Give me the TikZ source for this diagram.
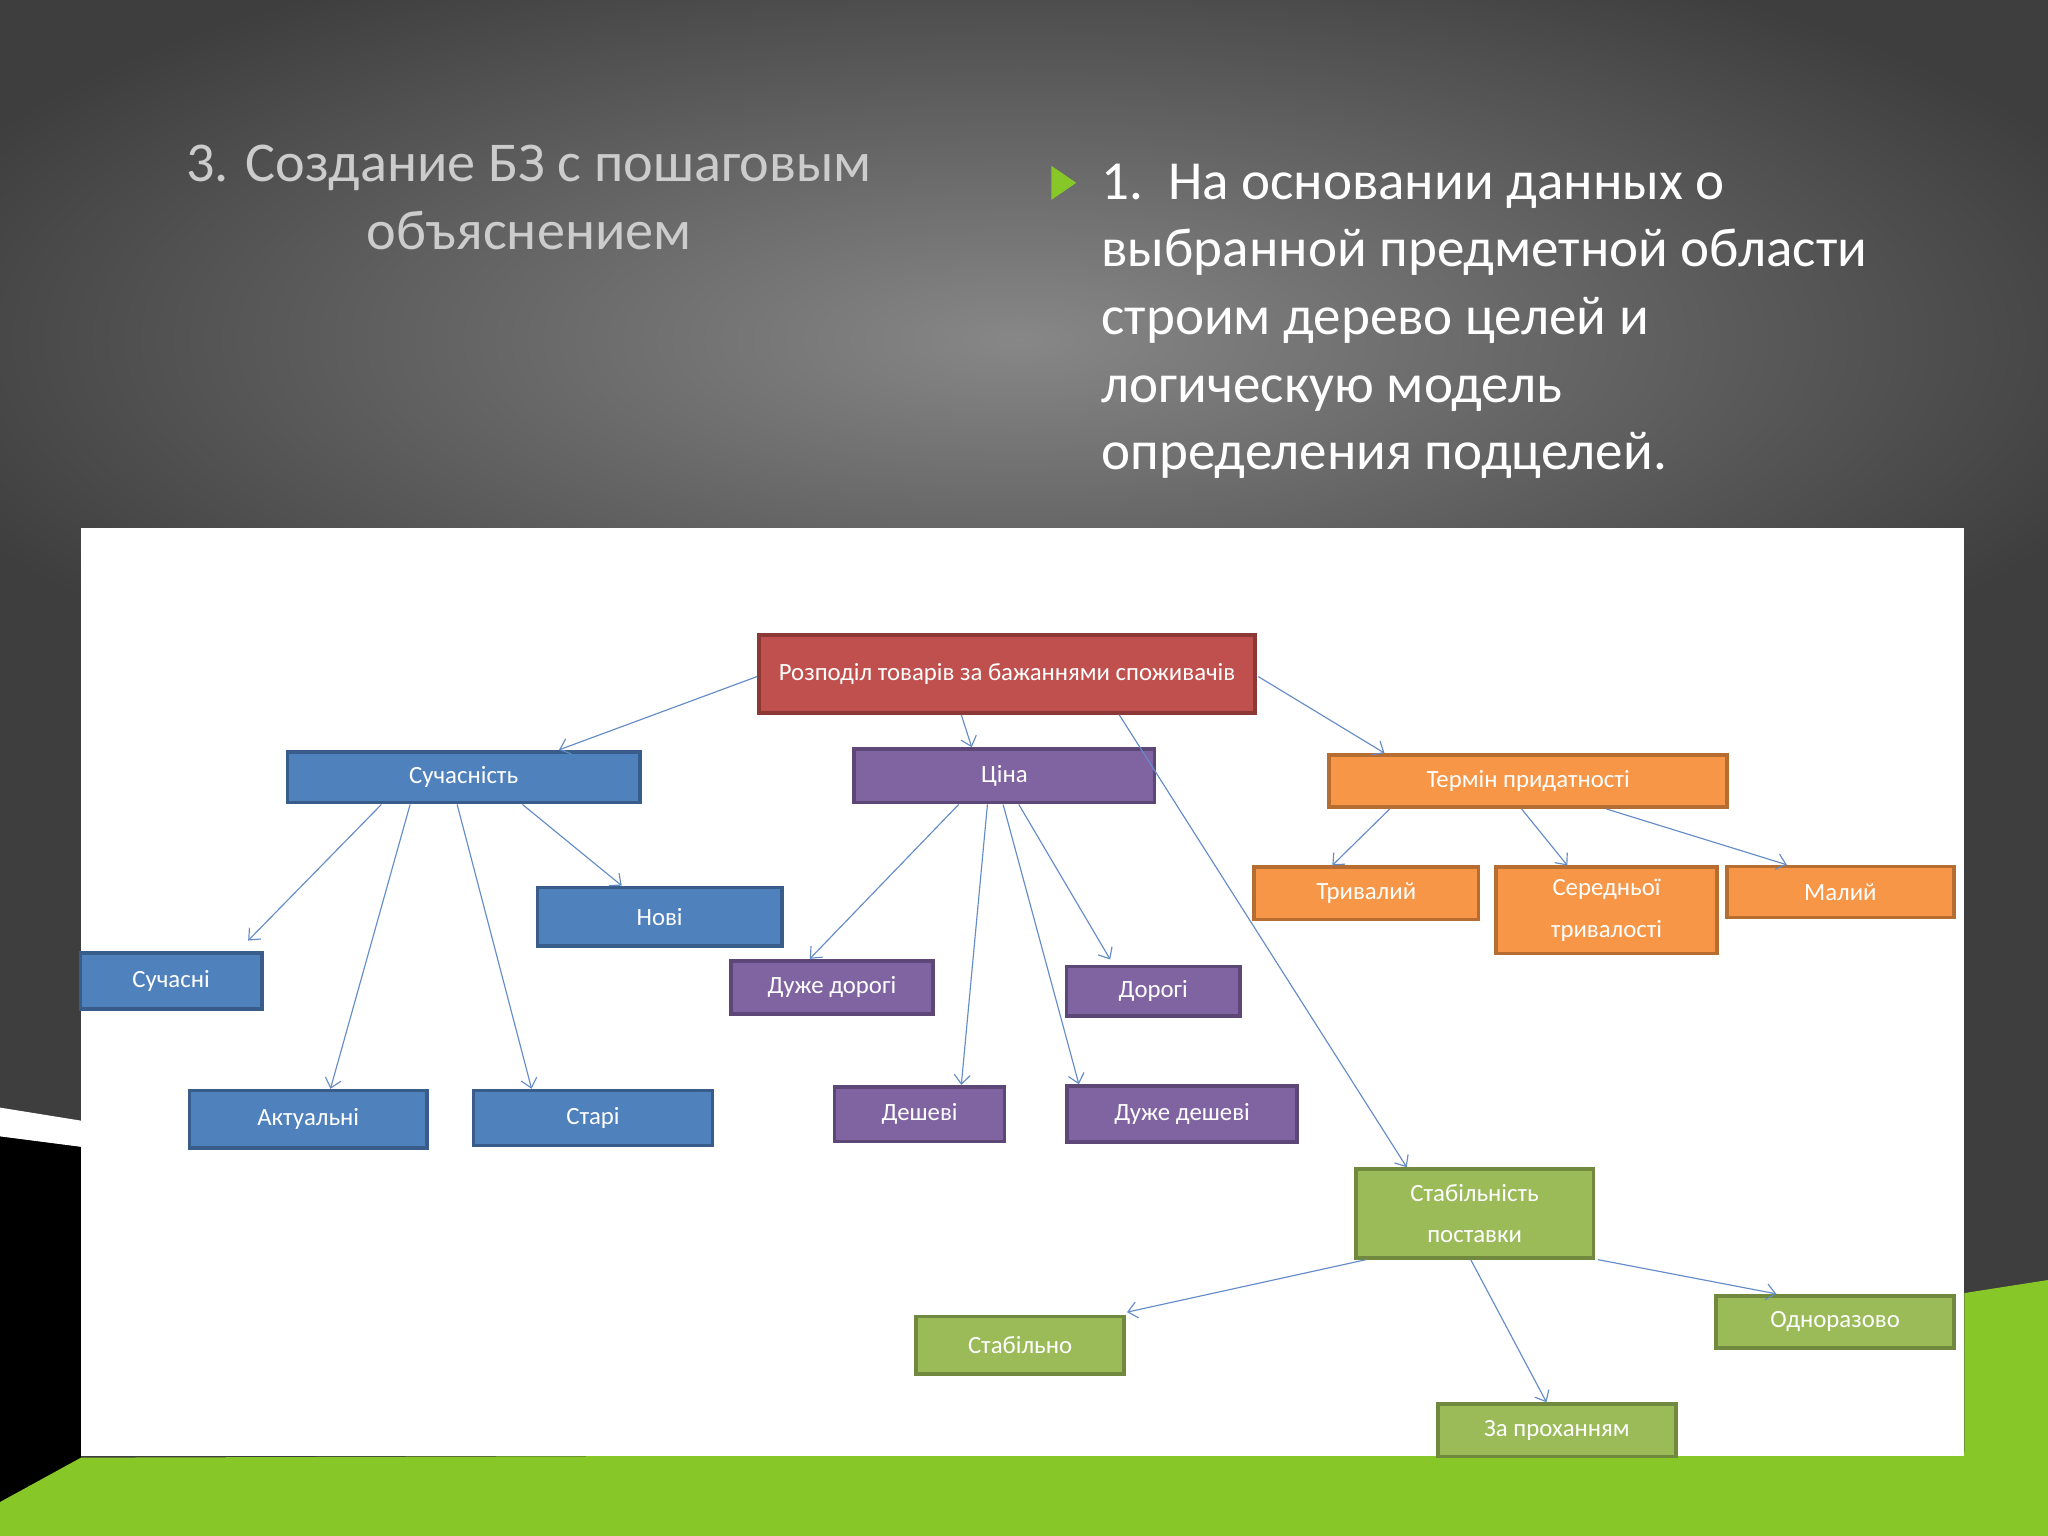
\documentclass[tikz,border=0pt]{standalone}
\usepackage{fontspec}
\setmainfont{Carlito}
\usetikzlibrary{calc,arrows.meta}
\definecolor{bgdark}{RGB}{62,62,62}
\definecolor{bglight}{RGB}{135,135,135}
\definecolor{grn}{RGB}{135,200,40}
\definecolor{rf}{RGB}{192,80,77}\definecolor{rd}{RGB}{140,56,54}
\definecolor{bf}{RGB}{79,129,189}\definecolor{bd}{RGB}{56,93,138}
\definecolor{pf}{RGB}{128,100,162}\definecolor{pd}{RGB}{92,71,118}
\definecolor{of}{RGB}{247,150,70}\definecolor{od}{RGB}{182,109,49}
\definecolor{gf}{RGB}{155,187,89}\definecolor{gd}{RGB}{113,137,63}
\definecolor{ln}{RGB}{100,140,200}
\tikzset{
 box/.style={draw,line width=1.6pt,text=white,font=\fontsize{10.8}{18}\selectfont,align=center,inner sep=1pt},
 rbox/.style={box,fill=rf,draw=rd},
 bbox/.style={box,fill=bf,draw=bd},
 pbox/.style={box,fill=pf,draw=pd},
 obox/.style={box,fill=of,draw=od},
 gbox/.style={box,fill=gf,draw=gd},
 con/.style={draw=ln,line width=0.5pt,-{Straight Barb[length=4pt,width=7pt]}},
}
\begin{document}
\begin{tikzpicture}[x=0.02cm,y=-0.02cm]
\useasboundingbox (0,0) rectangle (1568,1176);
\fill[bgdark] (0,0) rectangle (1568,1176);
\shade[inner color=bglight,outer color=bgdark] (780,260) ellipse (900 and 330);
% bottom decorations
\fill[black] (0,870) -- (62,878) -- (62,1176) -- (0,1176) -- cycle;
\fill[white] (0,848) -- (62,858) -- (62,878) -- (0,870) -- cycle;
\fill[grn] (0,1150) -- (62,1116) -- (1504,1112) -- (1504,990) -- (1568,980) -- (1568,1176) -- (0,1176) -- cycle;
\fill[white] (62,404) rectangle (1504,1115);
% titles
\node[text=white!80!black,font=\fontsize{24.5}{29.5}\selectfont,align=center] (t1) at (405,151) {3. Создание БЗ с пошаговым\\объяснением};
\fill[grn] (805,127) -- (824,140) -- (805,153) -- cycle;
\node[text=white,font=\fontsize{24}{29.5}\selectfont,align=left,anchor=north west,inner sep=0] (t2) at (843,125) {1.\ \ На основании данных о\\выбранной предметной области\\строим дерево целей и\\логическую модель\\определения подцелей.};
% nodes
\node[rbox,minimum width=7.6cm,minimum height=1.2cm] (root) at (771,516) {Розподіл товарів за бажаннями споживачів};
\node[bbox,minimum width=5.4cm,minimum height=0.78cm] (s) at (355,595) {Сучасність};
\node[pbox,minimum width=4.6cm,minimum height=0.82cm] (c) at (769,594) {Ціна};
\node[obox,minimum width=6.1cm,minimum height=0.8cm] (t) at (1170,598) {Термін придатності};
\node[bbox,minimum width=3.74cm,minimum height=0.9cm] (nw) at (505,702) {Нові};
\node[bbox,minimum width=2.78cm,minimum height=0.86cm] (sn) at (131,751) {Сучасні};
\node[bbox,minimum width=3.64cm,minimum height=0.88cm] (ac) at (236,857) {Актуальні};
\node[bbox,minimum width=3.66cm,minimum height=0.84cm] (ol) at (454,856) {Старі};
\node[pbox,minimum width=3.1cm,minimum height=0.82cm] (vd) at (637,756) {Дуже дорогі};
\node[pbox,minimum width=2.66cm,minimum height=0.76cm] (dr) at (883,759) {Дорогі};
\node[pbox,minimum width=2.6cm,minimum height=0.84cm] (ch) at (704,853) {Дешеві};
\node[pbox,minimum width=3.52cm,minimum height=0.86cm] (vc) at (905,853) {Дуже дешеві};
\node[obox,minimum width=3.44cm,minimum height=0.8cm] (tr) at (1046,684) {Тривалий};
\node[obox,minimum width=3.38cm,minimum height=1.32cm] (se) at (1230,697) {Середньої\\тривалості};
\node[obox,minimum width=3.48cm,minimum height=0.78cm] (ml) at (1409,683) {Малий};
\node[gbox,minimum width=3.64cm,minimum height=1.36cm] (st) at (1129,929) {Стабільність\\поставки};
\node[gbox,minimum width=3.18cm,minimum height=0.88cm] (sb) at (781,1030) {Стабільно};
\node[gbox,minimum width=3.64cm,minimum height=0.8cm] (on) at (1405,1012) {Одноразово};
\node[gbox,minimum width=3.64cm,minimum height=0.8cm] (za) at (1192,1095) {За проханням};
% connectors
\draw[con] ($(root.west)+(0,2)$) -- ($(s.north)+(73,0)$);
\draw[con] ($(root.south)+(-35,0)$) -- ($(c.north)+(-25,0)$);
\draw[con] ($(root.south)+(86,0)$) -- ($(st.north)+(-52,0)$);
\draw[con] ($(root.east)+(1,2)$) -- ($(t.north)+(-110,0)$);
\draw[con] ($(s.south)+(-63,0)$) -- ($(sn.north)+(59,-8)$);
\draw[con] ($(s.south)+(-41,0)$) -- ($(ac.north)+(17,0)$);
\draw[con] ($(s.south)+(-5,0)$) -- ($(ol.north)+(-47,0)$);
\draw[con] ($(s.south)+(45,0)$) -- ($(nw.north)+(-29,0)$);
\draw[con] ($(c.south)+(-35,0)$) -- ($(vd.north)+(-17,0)$);
\draw[con] ($(c.south)+(-13,0)$) -- ($(ch.north)+(32,0)$);
\draw[con] ($(c.south)+(-1,0)$) -- ($(vc.north)+(-79,0)$);
\draw[con] ($(c.south)+(11,0)$) -- ($(dr.north)+(-33,-4)$);
\draw[con] ($(t.south)+(-106,0)$) -- ($(tr.north)+(-26,0)$);
\draw[con] ($(t.south)+(-5,0)$) -- ($(se.north)+(-30,0)$);
\draw[con] ($(t.south)+(60,0)$) -- ($(ml.north)+(-41,0)$);
\draw[con] ($(st.south)+(-83,0)$) -- ($(sb.north east)+(1,-2)$);
\draw[con] ($(st.south)+(-3,0)$) -- ($(za.north)+(-8,0)$);
\draw[con] ($(st.south east)+(2,0)$) -- ($(on.north)+(-45,0)$);
\end{tikzpicture}
\end{document}
